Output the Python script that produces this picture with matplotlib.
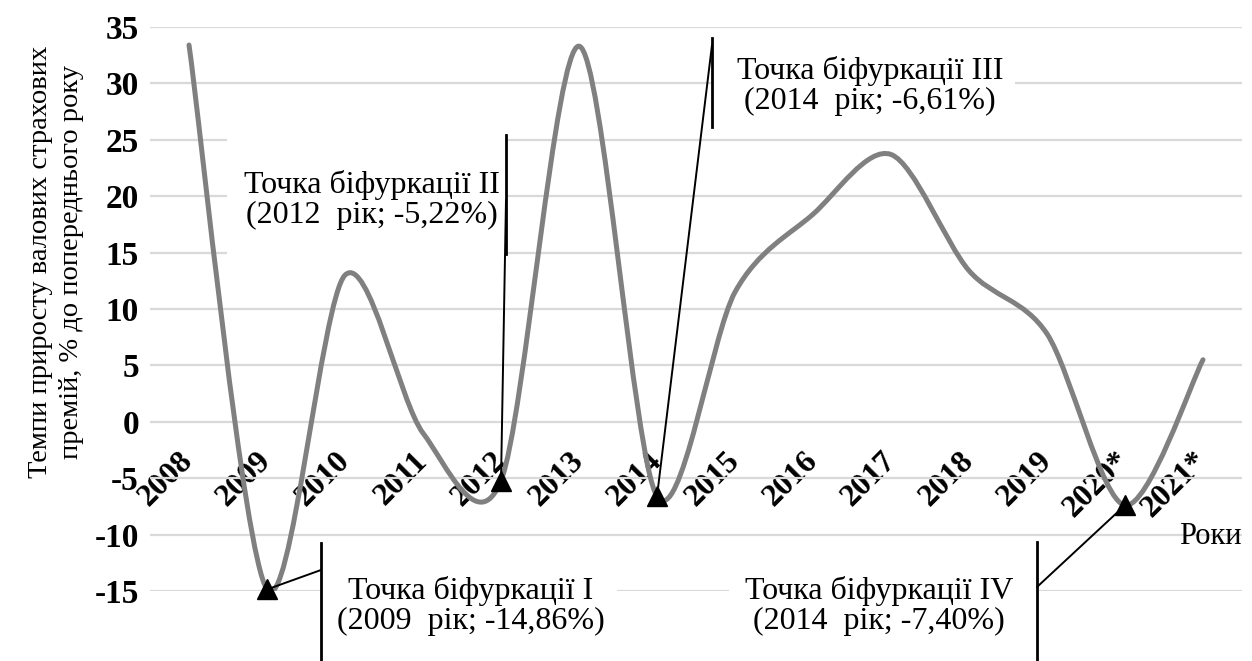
import matplotlib
matplotlib.use('Agg')
import matplotlib.pyplot as plt
import matplotlib.transforms as mtransforms
from matplotlib.path import Path
from matplotlib.patches import PathPatch, Rectangle
import numpy as np

plt.rcParams['font.family'] = ['Liberation Serif', 'DejaVu Serif']

years = ['2008', '2009', '2010', '2011', '2012', '2013', '2014',
         '2015', '2016', '2017', '2018', '2019', '2020*', '2021*']
growth = [33.4, -14.86, 13.0, -1.0, -5.22, 33.3, -6.61,
          11.5, 18.4, 23.7, 13.4, 7.8, -7.40, 5.5]

# bifurcation points: index into years
bif_idx = [1, 4, 6, 12]
bif_text = ['Точка біфуркації I\n(2009  рік; -14,86%)',
            'Точка біфуркації II\n(2012  рік; -5,22%)',
            'Точка біфуркації III\n(2014  рік; -6,61%)',
            'Точка біфуркації IV\n(2014  рік; -7,40%)']

W, H = 1252, 661
fig = plt.figure(figsize=(W / 100, H / 100), dpi=100)
ax = fig.add_axes([150 / W, 70 / H, 1092 / W, 564 / H])
# pixel coords measured from the top-left corner of the picture
pix = mtransforms.Affine2D().scale(1 / W, -1 / H).translate(0, 1) + fig.transFigure

x = np.arange(len(years))
pts = np.column_stack([x, growth])

# smoothed line like the spreadsheet one (cardinal spline as bezier segments)
k = 0.15
verts = [pts[0]]
codes = [Path.MOVETO]
n = len(pts)
for i in range(n - 1):
    p0 = pts[max(i - 1, 0)]
    p1 = pts[i]
    p2 = pts[i + 1]
    p3 = pts[min(i + 2, n - 1)]
    verts += [p1 + (p2 - p0) * k, p2 - (p3 - p1) * k, p2]
    codes += [Path.CURVE4] * 3
ax.add_patch(PathPatch(Path(verts, codes), facecolor='none', edgecolor='#808080',
                       lw=3.6, capstyle='round', zorder=4))

ax.plot(x[bif_idx], np.array(growth)[bif_idx], '^', color='black', ms=15,
        zorder=6, clip_on=False)

ax.set_xlim(-0.5, 13.5)
ax.set_ylim(-15, 35)
ax.set_yticks(range(-15, 40, 5))
ax.set_yticklabels([str(v) for v in range(-15, 40, 5)], fontsize=24, fontweight='bold')
ax.yaxis.grid(True, color='#d9d9d9', lw=1.6)
ax.set_axisbelow(True)
for s in ax.spines.values():
    s.set_visible(False)
ax.spines['bottom'].set_position(('data', 0))
ax.set_xticks(x)
ax.set_xticklabels(years, rotation=45, ha='right', va='center',
                   rotation_mode='anchor', fontsize=23, fontweight='bold')
ax.tick_params(axis='x', length=0, pad=25)
ax.tick_params(axis='y', length=0, pad=8)

fig.text(56 / W, 1 - 262 / H, 'Темпи приросту валових страхових\nпремій, % до попереднього року',
         rotation=90, ha='center', va='center', fontsize=20.5, linespacing=1.35)
fig.text(1242 / W, 1 - 537 / H, 'Роки', ha='right', va='center', fontsize=22)

# annotation boxes in pixels: box (left, top, right, bottom), text centre,
# box edge line (x, y0, y1), start of the leader line
boxes = [
    ((321, 543, 617, 661), (471, 606), (321, 543, 661), (321, 570)),
    ((227, 135, 506, 256), (372, 200), (506, 135, 254), (506, 200)),
    ((712, 30, 1015, 130), (870, 86), (712, 38, 127), (712, 45)),
    ((729, 542, 1037, 661), (879, 606), (1037, 542, 661), (1037, 587)),
]
for (box, tpos, edge, lead), i, txt in zip(boxes, bif_idx, bif_text):
    l, t, r, b = box
    ax.add_patch(Rectangle((l, t), r - l, b - t, transform=pix, facecolor='white',
                           edgecolor='none', zorder=1, clip_on=False))
    ex, e0, e1 = edge
    ax.add_line(plt.Line2D([ex, ex], [e0, e1], transform=pix, color='black',
                           lw=2, clip_on=False, zorder=5))
    ax.annotate('', xy=(x[i], growth[i]), xytext=lead, textcoords=pix,
                arrowprops=dict(arrowstyle='-', color='black', lw=1.4,
                                shrinkA=0, shrinkB=0), zorder=5)
    ax.text(tpos[0], tpos[1], txt, transform=pix, ha='center', va='center',
            fontsize=23, linespacing=1.05, zorder=7)

fig.savefig('out.png', dpi=100)
